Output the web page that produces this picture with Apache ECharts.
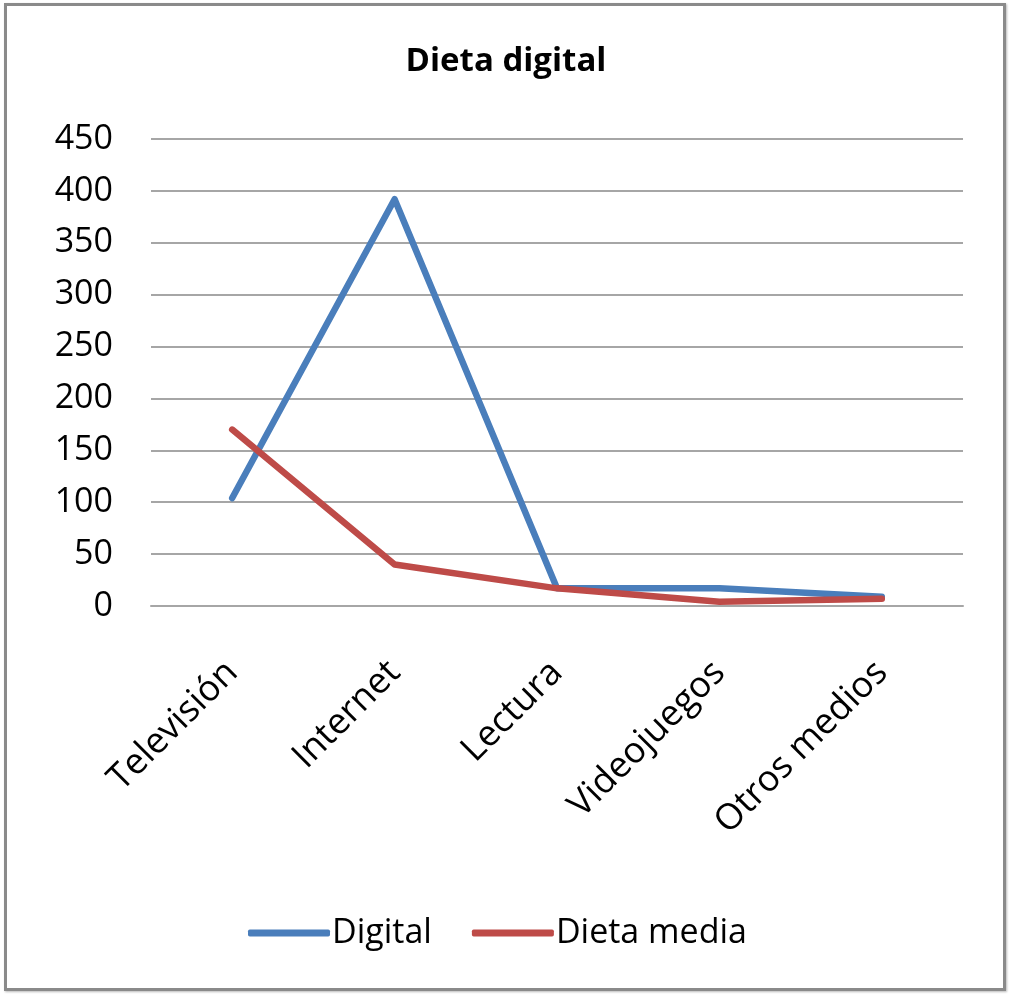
<!DOCTYPE html>
<html>
<head>
<meta charset="utf-8">
<script src="https://cdn.jsdelivr.net/npm/echarts@6/dist/echarts.min.js"></script>
<style>
html,body{margin:0;padding:0;background:#fff;}
#chart{position:absolute;left:0;top:0;width:1012px;height:994px;}
#frame{position:absolute;left:4px;top:3px;width:996px;height:982px;border:3px solid #8a8a8a;pointer-events:none;box-shadow:1px 1px 2px #bbb;}
</style>
</head>
<body>
<div id="chart"></div>
<div id="frame"></div>
<script>
var categories = ['Televisión', 'Internet', 'Lectura', 'Videojuegos', 'Otros medios'];
var digital = [104, 392, 17, 17, 9];
var dietaMedia = [170, 40, 17, 4, 7];
var yTicks = [0, 50, 100, 150, 200, 250, 300, 350, 400, 450];

var FONT = '"Open Sans", sans-serif';
var chart = echarts.init(document.getElementById('chart'));
chart.setOption({
  backgroundColor: '#fff',
  animation: false,
  title: {
    text: 'Dieta digital',
    left: 'center',
    top: 40,
    textStyle: {fontFamily: FONT, fontSize: 33, fontWeight: 'bold', color: '#000'}
  },
  legend: {
    left: 243,
    top: 911,
    icon: 'roundRect',
    itemWidth: 82,
    itemHeight: 7,
    itemGap: 40,
    textStyle: {fontFamily: FONT, fontSize: 34, color: '#000', padding: [0,0,0,-3]},
    data: ['Digital', 'Dieta media']
  },
  grid: {left: 151, right: 49, top: 139, bottom: 388, containLabel: false},
  xAxis: {
    type: 'category',
    data: categories,
    boundaryGap: true,
    axisLine: {show: true, lineStyle: {color: '#a6a6a6', width: 2}},
    axisTick: {show: false},
    axisLabel: {rotate: 45, margin: 61, fontFamily: FONT, fontSize: 36, color: '#000', interval: 0}
  },
  yAxis: {
    type: 'value',
    min: yTicks[0],
    max: yTicks[yTicks.length - 1],
    interval: 50,
    axisLine: {show: false},
    axisTick: {show: false},
    splitLine: {lineStyle: {color: '#a6a6a6', width: 2}},
    axisLabel: {margin: 38, fontFamily: FONT, fontSize: 34, color: '#000'}
  },
  series: [
    {name: 'Digital', type: 'line', data: digital, symbol: 'none',
     lineStyle: {color: '#4a7ebb', width: 6.5, cap: 'round', join: 'round'},
     itemStyle: {color: '#4a7ebb'}},
    {name: 'Dieta media', type: 'line', data: dietaMedia, symbol: 'none',
     lineStyle: {color: '#be4b48', width: 6.5, cap: 'round', join: 'round'},
     itemStyle: {color: '#be4b48'}}
  ]
});
</script>
</body>
</html>
